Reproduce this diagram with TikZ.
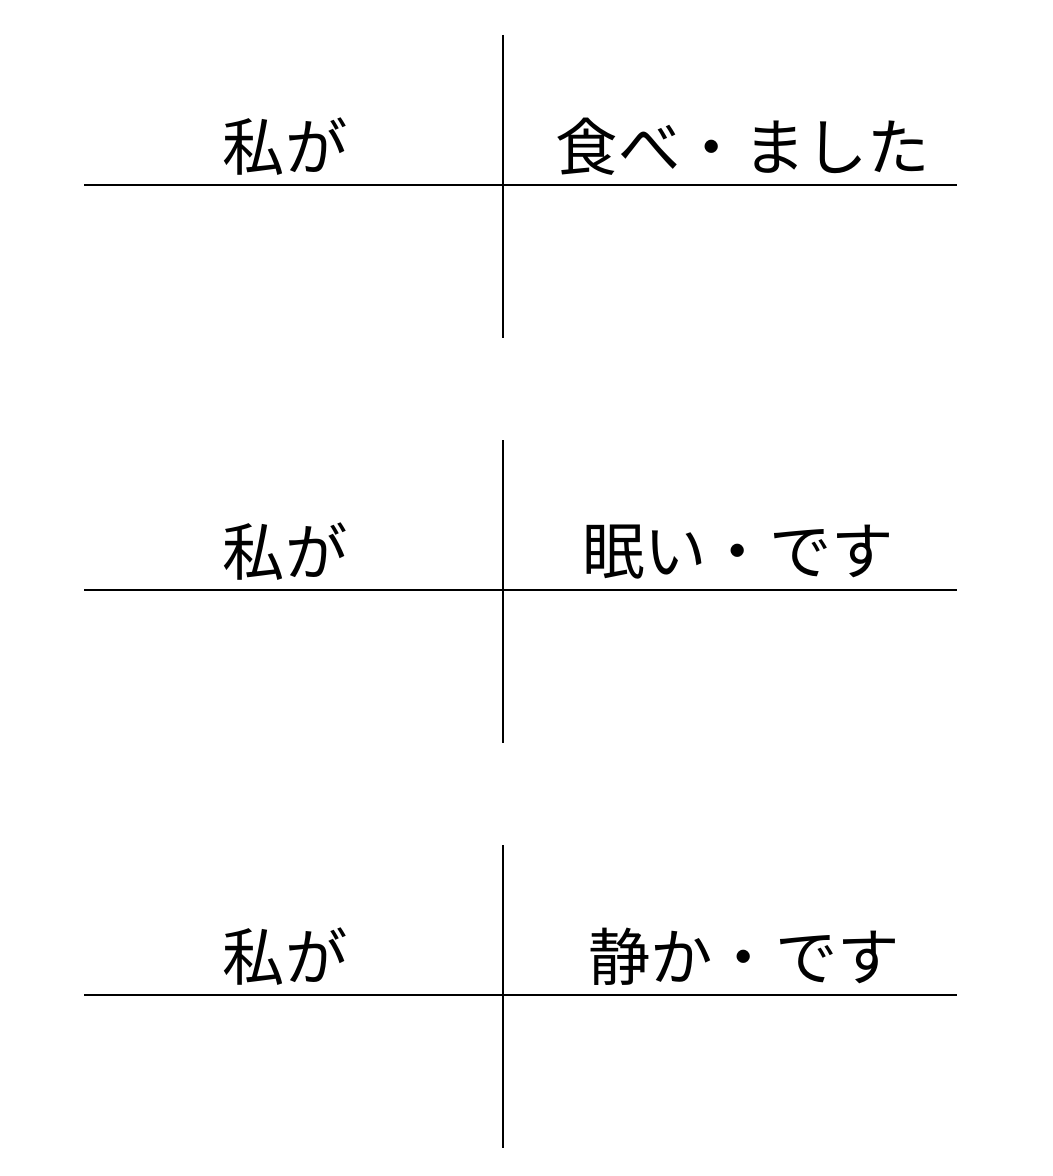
\documentclass[tikz,border=0pt]{standalone}
\usepackage{fontspec}
\newfontfamily\jp{Noto Sans CJK JP}
\begin{document}
\begin{tikzpicture}[x=0.02cm,y=-0.02cm,
  rule/.style={line width=1.2pt,black},
  word/.style={font=\jp\fontsize{35.5}{42}\selectfont,inner sep=0pt,anchor=center}]
\useasboundingbox (0,0) rectangle (1052,1176);
% diagram 1
\coordinate (v1t) at (503,35); \coordinate (v1b) at (503,338);
\coordinate (h1l) at (84,185); \coordinate (h1r) at (957,185);
\draw[rule] (v1t) -- (v1b);
\draw[rule] (h1l) -- (h1r);
\node[word] (s1) at (285,147) {私が};
\node[word] (p1) at (743,147) {食べ・ました};
% diagram 2
\coordinate (v2t) at (503,440); \coordinate (v2b) at (503,743);
\coordinate (h2l) at (84,590); \coordinate (h2r) at (957,590);
\draw[rule] (v2t) -- (v2b);
\draw[rule] (h2l) -- (h2r);
\node[word] (s2) at (285,552) {私が};
\node[word] (p2) at (738,552) {眠い・です};
% diagram 3
\coordinate (v3t) at (503,845); \coordinate (v3b) at (503,1148);
\coordinate (h3l) at (84,995); \coordinate (h3r) at (957,995);
\draw[rule] (v3t) -- (v3b);
\draw[rule] (h3l) -- (h3r);
\node[word] (s3) at (285,957) {私が};
\node[word] (p3) at (744,957) {静か・です};
\end{tikzpicture}
\end{document}
